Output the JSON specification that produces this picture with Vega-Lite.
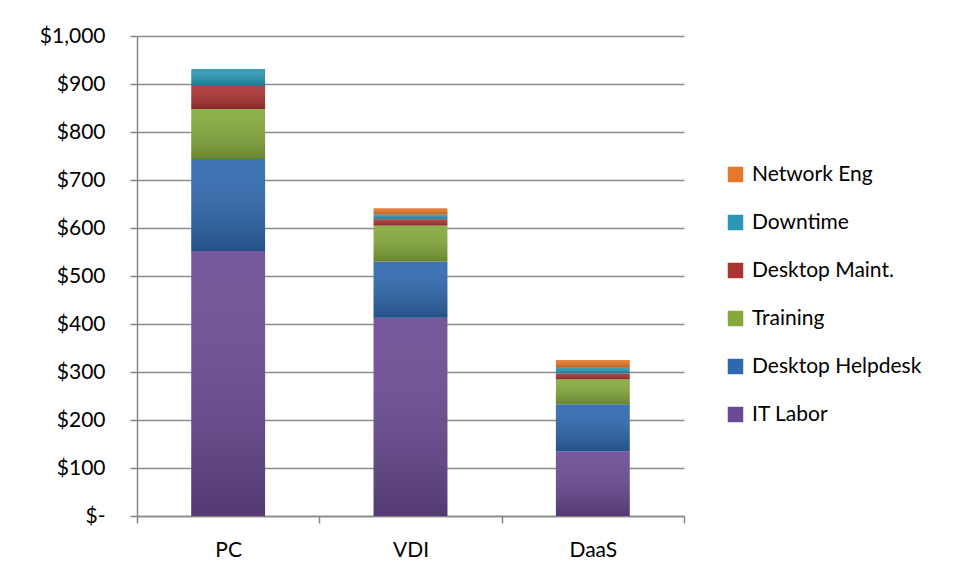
{
  "$schema": "https://vega.github.io/schema/vega-lite/v6.json",
  "width": 547,
  "height": 480,
  "autosize": {"type": "none"},
  "padding": {"left": 137, "top": 36, "right": 272, "bottom": 65},
  "background": "white",
  "config": {
    "font": "Lato",
    "view": {"stroke": null},
    "axis": {"labelFont": "Lato", "labelFontSize": 21, "labelColor": "#000000"}
  },
  "data": {
    "values": [
      {"platform": "PC", "series": "IT Labor", "rank": 1, "cost": 552},
      {"platform": "PC", "series": "Desktop Helpdesk", "rank": 2, "cost": 192},
      {"platform": "PC", "series": "Training", "rank": 3, "cost": 104},
      {"platform": "PC", "series": "Desktop Maint.", "rank": 4, "cost": 48},
      {"platform": "PC", "series": "Downtime", "rank": 5, "cost": 35},
      {"platform": "PC", "series": "Network Eng", "rank": 6, "cost": 0},
      {"platform": "VDI", "series": "IT Labor", "rank": 1, "cost": 413},
      {"platform": "VDI", "series": "Desktop Helpdesk", "rank": 2, "cost": 117},
      {"platform": "VDI", "series": "Training", "rank": 3, "cost": 75},
      {"platform": "VDI", "series": "Desktop Maint.", "rank": 4, "cost": 13},
      {"platform": "VDI", "series": "Downtime", "rank": 5, "cost": 10},
      {"platform": "VDI", "series": "Network Eng", "rank": 6, "cost": 13},
      {"platform": "DaaS", "series": "IT Labor", "rank": 1, "cost": 135},
      {"platform": "DaaS", "series": "Desktop Helpdesk", "rank": 2, "cost": 98},
      {"platform": "DaaS", "series": "Training", "rank": 3, "cost": 52},
      {"platform": "DaaS", "series": "Desktop Maint.", "rank": 4, "cost": 12},
      {"platform": "DaaS", "series": "Downtime", "rank": 5, "cost": 12},
      {"platform": "DaaS", "series": "Network Eng", "rank": 6, "cost": 16}
    ]
  },
  "encoding": {
    "x": {
      "field": "platform",
      "type": "nominal",
      "sort": ["PC", "VDI", "DaaS"],
      "scale": {"paddingInner": 0, "paddingOuter": 0},
      "axis": {
        "title": null,
        "labelAngle": 0,
        "labelPadding": 16,
        "tickBand": "extent",
        "tickSize": 7,
        "tickColor": "#868686",
        "domainColor": "#868686",
        "domainWidth": 1.5,
        "tickWidth": 1.5
      }
    },
    "y": {
      "field": "cost",
      "type": "quantitative",
      "stack": "zero",
      "scale": {"domain": [0, 1000], "nice": false},
      "axis": {
        "title": null,
        "values": [0, 100, 200, 300, 400, 500, 600, 700, 800, 900, 1000],
        "labelExpr": "datum.value == 0 ? '$-' : '$' + format(datum.value, ',')",
        "labelPadding": 25,
        "tickSize": 7,
        "tickColor": "#868686",
        "tickWidth": 1.5,
        "domainColor": "#868686",
        "domainWidth": 1.5,
        "grid": true,
        "gridColor": "#8c8c8c",
        "gridWidth": 1.5
      }
    },
    "order": {"field": "rank", "type": "quantitative", "sort": "ascending"},
    "detail": {"field": "series"}
  },
  "layer": [
    {
      "mark": {"type": "bar", "width": {"band": 0.405}},
      "encoding": {
        "color": {
          "field": "series",
          "type": "nominal",
          "scale": {
            "domain": ["Network Eng", "Downtime", "Desktop Maint.", "Training", "Desktop Helpdesk", "IT Labor"],
            "range": ["#e5782a", "#2b97b5", "#ab3332", "#85aa3b", "#2e68ae", "#6a4a93"]
          },
          "legend": {
            "title": null,
            "orient": "none",
            "legendX": 588,
            "legendY": 128,
            "symbolType": "square",
            "symbolSize": 240,
            "symbolStrokeWidth": 0,
            "labelFontSize": 21,
            "labelFont": "Lato",
            "labelColor": "#000000",
            "labelOffset": 6,
            "rowPadding": 26,
            "labelLimit": 300
          }
        }
      }
    },
    {
      "mark": {
        "type": "bar",
        "width": {"band": 0.405},
        "fill": {
          "gradient": "linear",
          "x1": 0, "y1": 0, "x2": 0, "y2": 1,
          "stops": [
            {"offset": 0, "color": "rgba(255,255,255,0.08)"},
            {"offset": 1, "color": "rgba(0,0,0,0.22)"}
          ]
        }
      }
    }
  ]
}
